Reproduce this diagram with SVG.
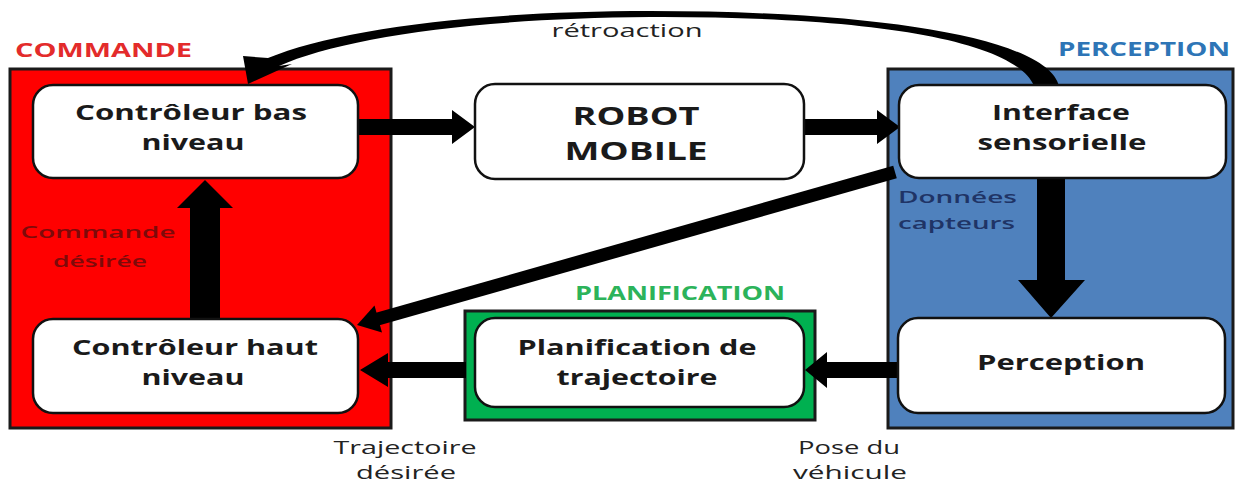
<svg xmlns="http://www.w3.org/2000/svg" width="1239" height="485" viewBox="0 0 1239 485">
  <style>
    .zone { stroke: #1a1a1a; stroke-width: 3; }
    .box { fill: #ffffff; stroke: #111111; stroke-width: 2.5; }
    .lbl { font-family: "Open Sans", "Liberation Sans", sans-serif; font-weight: 700; font-size: 22px; fill: #1a1a1a; text-anchor: middle; }
    .big { font-size: 25px; }
    .zonelbl { font-family: "Open Sans", "Liberation Sans", sans-serif; font-weight: 700; font-size: 19px; }
    .note { font-family: "Open Sans", "Liberation Sans", sans-serif; font-size: 19px; fill: #222222; text-anchor: middle; }
    .inzone { font-family: "Open Sans", "Liberation Sans", sans-serif; font-size: 17px; font-weight: 600; }
    .arrow { fill: #000000; }
  </style>

  <!-- background zones -->
  <g id="zone-commande">
    <rect class="zone" x="10" y="69" width="381" height="359" fill="#ff0000"/>
    <text class="zonelbl" x="15" y="57" fill="#e32b2b" textLength="177" lengthAdjust="spacingAndGlyphs">COMMANDE</text>
    <text class="inzone" x="98" y="238" fill="#7d0a0a" text-anchor="middle" textLength="155" lengthAdjust="spacingAndGlyphs">Commande</text>
    <text class="inzone" x="100" y="267" fill="#7d0a0a" text-anchor="middle" textLength="94" lengthAdjust="spacingAndGlyphs">désirée</text>
  </g>
  <g id="zone-perception">
    <rect class="zone" x="888" y="69" width="345" height="359" fill="#4f81bd"/>
    <text class="zonelbl" x="1058" y="56" fill="#2e75b6" textLength="172" lengthAdjust="spacingAndGlyphs">PERCEPTION</text>
    <text class="inzone" x="898" y="203" fill="#1f3466" textLength="119" lengthAdjust="spacingAndGlyphs">Données</text>
    <text class="inzone" x="898" y="229" fill="#1f3466" textLength="117" lengthAdjust="spacingAndGlyphs">capteurs</text>
  </g>
  <g id="zone-planification">
    <rect class="zone" x="465" y="311" width="350" height="109" fill="#00b050"/>
    <text class="zonelbl" x="575" y="300" fill="#2cb35a" textLength="210" lengthAdjust="spacingAndGlyphs">PLANIFICATION</text>
  </g>

  <!-- connectors -->
  <g id="connectors">
    <!-- rétroaction (curved, tapering) -->
    <path class="arrow" d="M1059,86 C1047,38 880,11 650,11 C475,11 335,30 268,58 L243,56 L248,84 L292,64 L279,66 C340,38 478,18 650,17 C870,16 1015,40 1034,86 Z"/>
    <text class="note" x="627" y="37" textLength="151" lengthAdjust="spacingAndGlyphs">rétroaction</text>
    <!-- bas niveau -> robot -->
    <path class="arrow" d="M356,119 H452 V110 L475,127 L452,144 V135 H356 Z"/>
    <!-- robot -> interface -->
    <path class="arrow" d="M803,119 H877 V110 L900,127 L877,144 V135 H803 Z"/>
    <!-- interface -> perception -->
    <path class="arrow" d="M1037,176 V280 H1018 L1051,318 L1085,280 H1065 V176 Z"/>
    <!-- perception -> planification -->
    <path class="arrow" d="M899,362 H827 V352 L805,370 L827,388 V378 H899 Z"/>
    <!-- planification -> haut niveau -->
    <path class="arrow" d="M466,362 H388 V353 L360,370 L388,387 V378 H466 Z"/>
    <!-- haut niveau -> bas niveau -->
    <path class="arrow" d="M190,320 V208 H177 L205,180 L233,208 H220 V320 Z"/>
    <!-- données capteurs -> haut niveau -->
    <line x1="895" y1="172" x2="376" y2="319.5" stroke="#000000" stroke-width="13"/>
    <polygon class="arrow" points="357,325 382,332.5 374.5,305.5"/>
    <!-- labels below -->
    <text class="note" x="405" y="454" textLength="143" lengthAdjust="spacingAndGlyphs">Trajectoire</text>
    <text class="note" x="406" y="479" textLength="100" lengthAdjust="spacingAndGlyphs">désirée</text>
    <text class="note" x="849" y="454" textLength="102" lengthAdjust="spacingAndGlyphs">Pose du</text>
    <text class="note" x="850" y="479" textLength="114" lengthAdjust="spacingAndGlyphs">véhicule</text>
  </g>

  <!-- blocks -->
  <g id="controleur-bas">
    <rect class="box" x="33" y="85" width="325" height="93" rx="20"/>
    <text class="lbl" x="191" y="120" textLength="232" lengthAdjust="spacingAndGlyphs">Contrôleur bas</text>
    <text class="lbl" x="193" y="150" textLength="103" lengthAdjust="spacingAndGlyphs">niveau</text>
  </g>
  <g id="controleur-haut">
    <rect class="box" x="33" y="319" width="325" height="94" rx="20"/>
    <text class="lbl" x="195" y="355" textLength="246" lengthAdjust="spacingAndGlyphs">Contrôleur haut</text>
    <text class="lbl" x="193" y="385" textLength="103" lengthAdjust="spacingAndGlyphs">niveau</text>
  </g>
  <g id="robot-mobile">
    <rect class="box" x="475" y="84" width="329" height="95" rx="20"/>
    <text class="lbl big" x="636" y="125" textLength="127" lengthAdjust="spacingAndGlyphs">ROBOT</text>
    <text class="lbl big" x="636" y="160" textLength="143" lengthAdjust="spacingAndGlyphs">MOBILE</text>
  </g>
  <g id="interface-sensorielle">
    <rect class="box" x="899" y="85" width="327" height="93" rx="20"/>
    <text class="lbl" x="1061" y="120" textLength="138" lengthAdjust="spacingAndGlyphs">Interface</text>
    <text class="lbl" x="1062" y="150" textLength="169" lengthAdjust="spacingAndGlyphs">sensorielle</text>
  </g>
  <g id="perception">
    <rect class="box" x="898" y="318" width="327" height="95" rx="20"/>
    <text class="lbl" x="1061" y="370" textLength="168" lengthAdjust="spacingAndGlyphs">Perception</text>
  </g>
  <g id="planification-trajectoire">
    <rect class="box" x="475" y="318" width="329" height="89" rx="20"/>
    <text class="lbl" x="637" y="355" textLength="239" lengthAdjust="spacingAndGlyphs">Planification de</text>
    <text class="lbl" x="637" y="385" textLength="161" lengthAdjust="spacingAndGlyphs">trajectoire</text>
  </g>
</svg>
